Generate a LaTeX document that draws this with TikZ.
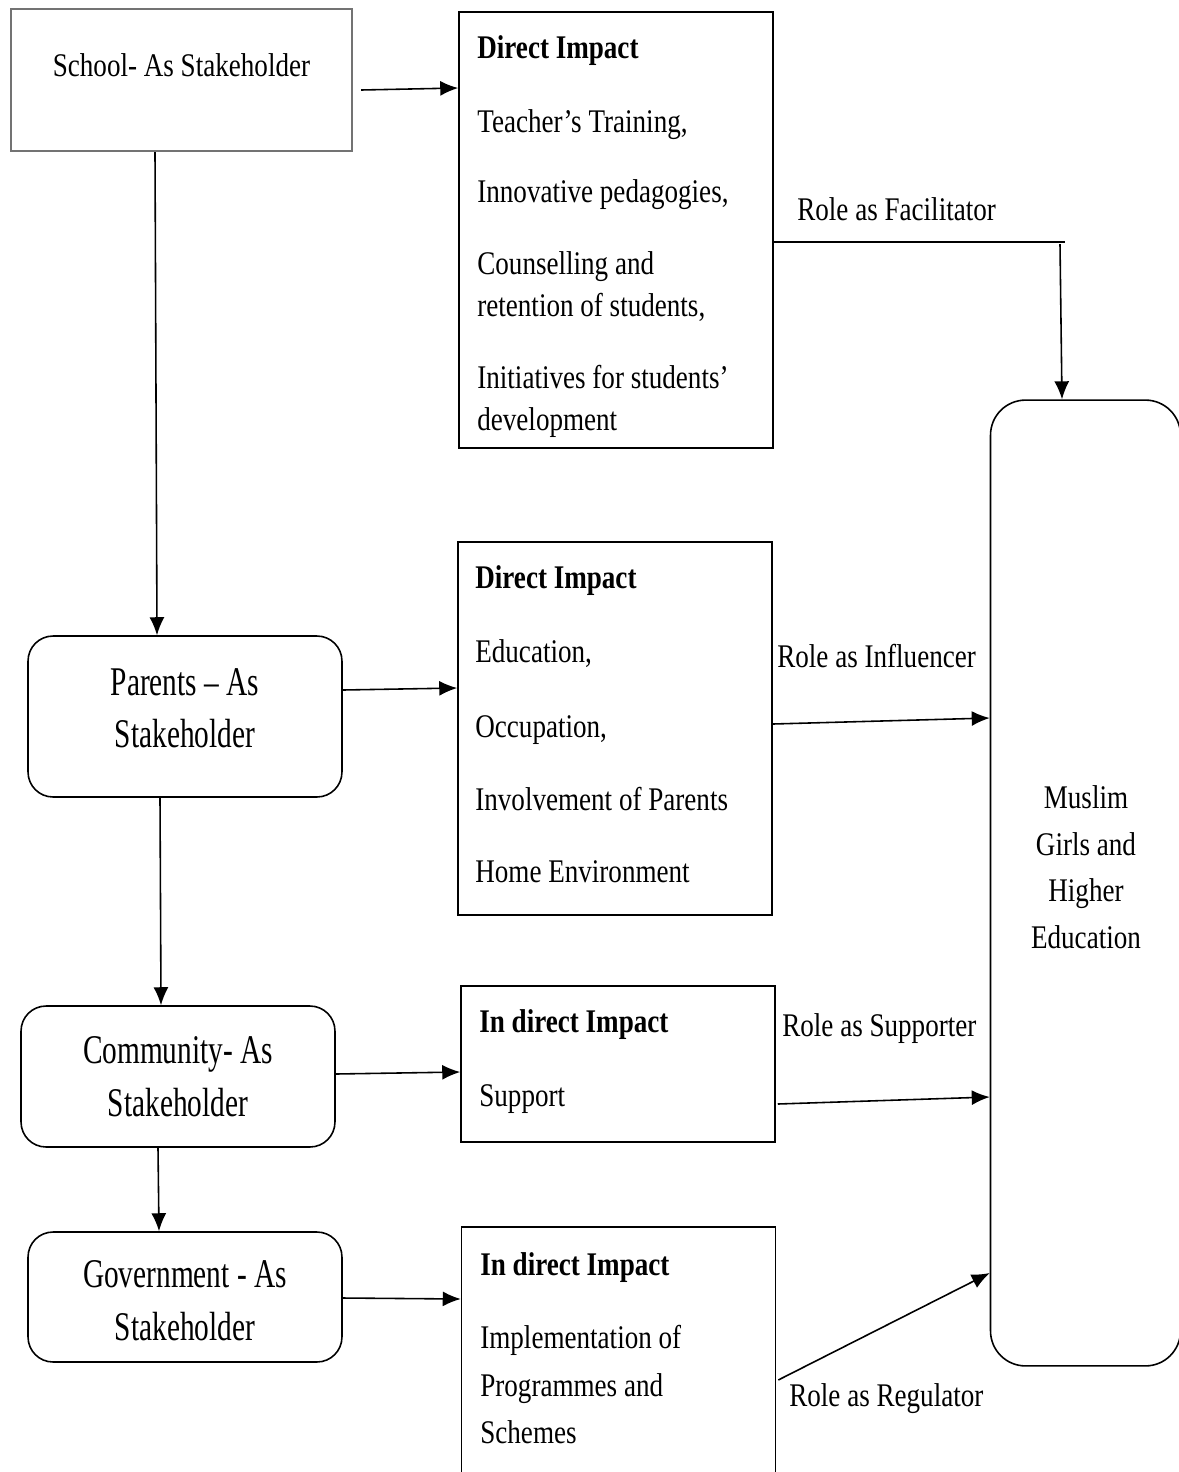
\documentclass[tikz,border=0pt]{standalone}
\usepackage{fontspec}
\setmainfont{Liberation Serif}[FakeStretch=0.82]
\newfontfamily\stakefont{Liberation Serif}[FakeStretch=0.72]
\usetikzlibrary{arrows.meta}

\begin{document}
\begin{tikzpicture}[x=0.02cm, y=-0.02cm,
		box/.style={draw, line width=0.9pt, inner sep=0pt},
		stake/.style={box, rounded corners=0.5cm, minimum width=6.28cm},
		impact/.style={box, minimum width=6.28cm},
		arr/.style={-{Latex[length=0.36cm,width=0.3cm]}, line width=0.9pt},
		txt/.style={anchor=base west, inner sep=0pt, font=\fontsize{18.8pt}{23.9pt}\selectfont},
		ctxt/.style={txt, anchor=base},
		stxt/.style={anchor=base, inner sep=0pt, font=\stakefont\fontsize{23.2pt}{29.6pt}\selectfont}]
		    \useasboundingbox (0,0) rectangle (1178,1472);

		    % attori
		    \node[box, draw=black!55, line width=1.2pt, minimum width=6.82cm, minimum height=2.84cm] (school) at (181.5,80) {};
		    \node[ctxt] (schoolt) at (181.5,76) {School- As Stakeholder};

		    \node[stake, minimum height=3.22cm] (parents) at (185,716.5) {};
		    \node[stxt] (parentsa) at (185,695) {Parents – As};
		    \node[stxt] (parentsb) at (185,747) {Stakeholder};

		    \node[stake, minimum height=2.82cm] (community) at (178,1076.5) {};
		    \node[stxt] (communa) at (178,1063) {Community- As};
		    \node[stxt] (communb) at (178,1116) {Stakeholder};

		    \node[stake, minimum height=2.6cm] (government) at (185,1297) {};
		    \node[stxt] (govta) at (185,1287) {Government - As};
		    \node[stxt] (govtb) at (185,1340) {Stakeholder};

		    % impatti
		    \node[impact, minimum height=8.72cm] (imp1) at (616,230) {};
		    \node[txt] (imp1h) at (477,58) {\bfseries Direct Impact};
		    \node[txt] (imp1a) at (477,132) {Teacher’s Training,};
		    \node[txt] (imp1b) at (477,202) {Innovative pedagogies,};
		    \node[txt] (imp1c) at (477,274) {Counselling and};
		    \node[txt] (imp1d) at (477,316) {retention of students,};
		    \node[txt] (imp1e) at (477,388) {Initiatives for students’};
		    \node[txt] (imp1f) at (477,430) {development};

		    \node[impact, minimum height=7.46cm] (imp2) at (615,728.5) {};
		    \node[txt] (imp2h) at (475,588) {\bfseries Direct Impact};
		    \node[txt] (imp2a) at (475,662) {Education,};
		    \node[txt] (imp2b) at (475,737) {Occupation,};
		    \node[txt] (imp2c) at (475,810) {Involvement of Parents};
		    \node[txt] (imp2d) at (475,882) {Home Environment};

		    \node[impact, minimum height=3.12cm] (imp3) at (618,1064) {};
		    \node[txt] (imp3h) at (479,1032) {\bfseries In direct Impact};
		    \node[txt] (imp3a) at (479,1106) {Support};

		    \node[impact, minimum height=5.32cm] (imp4) at (618.5,1360) {};
		    \node[txt] (imp4h) at (480,1275) {\bfseries In direct Impact};
		    \node[txt] (imp4a) at (480,1348) {Implementation of};
		    \node[txt] (imp4b) at (480,1396) {Programmes and};
		    \node[txt] (imp4c) at (480,1443) {Schemes};

		    % obiettivo
		    \node[box, rounded corners=0.7cm, minimum width=3.8cm, minimum height=19.32cm] (muslim) at (1085.5,883) {};
		    \node[ctxt] (muslima) at (1086,808) {Muslim};
		    \node[ctxt] (muslimb) at (1086,855) {Girls and};
		    \node[ctxt] (muslimc) at (1086,901) {Higher};
		    \node[ctxt] (muslimd) at (1086,948) {Education};

		    % ruoli
		    \node[txt] (rfac) at (797,220) {Role as Facilitator};
		    \node[txt] (rinf) at (777,667) {Role as Influencer};
		    \node[txt] (rsup) at (782,1036) {Role as Supporter};
		    \node[txt] (rreg) at (789,1406) {Role as Regulator};

		    % frecce
		    \draw[arr] ([shift={(8,10)}]school.east) -- (imp1.west |- 0,88); % da scuola a impatto
		    \draw[arr] (school.south -| 155,0) -- (parents.north -| 157,0);
		    \draw[arr] (parents.east |- 0,690) -- (imp2.west |- 0,688);
		    \draw[arr] (parents.south -| 160,0) -- (community.north -| 161,0);
		    \draw[arr] (community.east |- 0,1074) -- (imp3.west |- 0,1072);
		    \draw[arr] (community.south -| 158,0) -- (government.north -| 159,0);
		    \draw[arr] (government.east |- 0,1298) -- (imp4.west |- 0,1299);

		    \coordinate (fac) at (1065,242);
		    \draw[line width=0.9pt] (imp1.east |- fac) -- (fac);
		    \draw[arr] ([shift={(-5,2)}]fac) -- (muslim.north -| 1062,0); % facilitatore
		    \draw[arr] (imp2.east |- 0,724) -- (muslim.west |- 0,718); % influencer
		    \draw[arr] ([shift={(2,0)}]imp3.east |- 0,1104) -- (muslim.west |- 0,1097); % supporter
		    \draw[arr] ([shift={(2,0)}]imp4.east |- 0,1380) -- (muslim.west |- 0,1273); % regolatore
\end{tikzpicture}
\end{document}
